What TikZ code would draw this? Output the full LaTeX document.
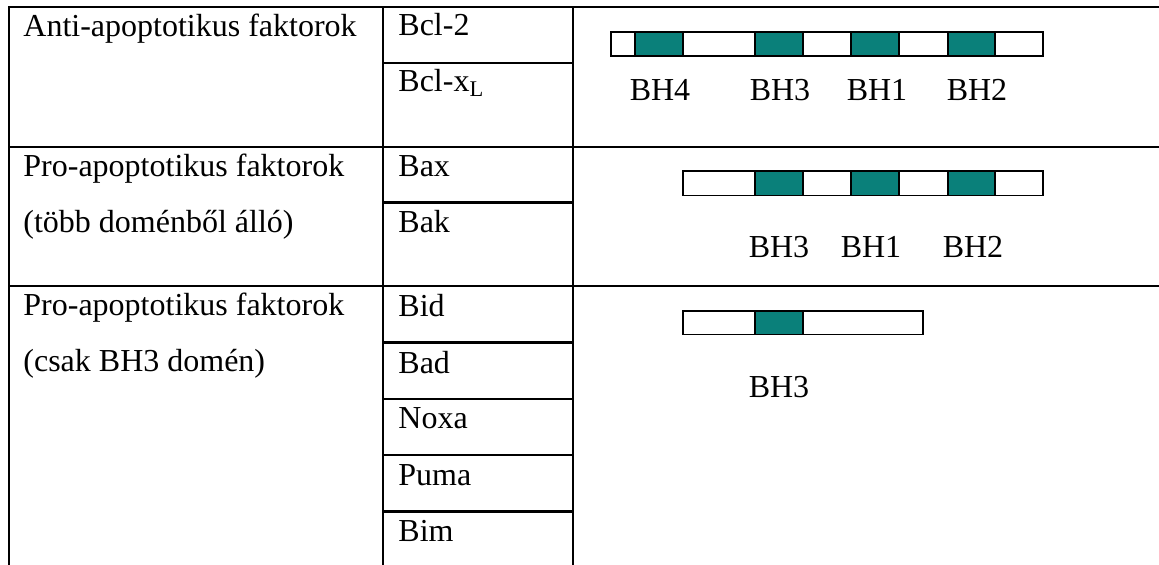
\documentclass[tikz,border=0pt]{standalone}
\usepackage{fontspec}
\setmainfont{Liberation Serif}
\definecolor{bhteal}{RGB}{10,128,122}
\begin{document}
\begin{tikzpicture}[x=0.5pt,y=-0.5pt,
  gridline/.style={line width=1.4pt, line cap=rect},
  txt/.style={anchor=base west, inner sep=0pt, font=\fontsize{16}{19}\selectfont},
  lab/.style={anchor=base, inner sep=0pt, font=\fontsize{16}{19}\selectfont},
  seg/.style={draw=black, line width=0.9pt, fill=white},
  dom/.style={draw=black, line width=0.9pt, fill=bhteal}]
\useasboundingbox (0,0) rectangle (1159,564);
% table grid
\draw[gridline] (9,7) -- (1159,7);
\draw[gridline] (9,147) -- (1159,147);
\draw[gridline] (9,286) -- (1159,286);
\foreach \yy in {63,202.7,342.7,399,455,511.7}
  \draw[gridline] (383,\yy) -- (573,\yy);
\draw[gridline] (9,7) -- (9,564);
\draw[gridline] (383,7) -- (383,564);
\draw[gridline] (573,7) -- (573,564);
% column 1
\node[txt] (c1a) at (23,36) {Anti-apoptotikus faktorok};
\node[txt] (c1b) at (23,176) {Pro-apoptotikus faktorok};
\node[txt] (c1c) at (23,232) {(több doménből álló)};
\node[txt] (c1d) at (23,315) {Pro-apoptotikus faktorok};
\node[txt] (c1e) at (23,371) {(csak BH3 domén)};
% column 2
\node[txt] (bcl2) at (398,35) {Bcl-2};
\node[txt] (bclxl) at (398,91) {Bcl-x\textsubscript{L}};
\node[txt] (bax) at (398,176) {Bax};
\node[txt] (bak) at (398,232) {Bak};
\node[txt] (bid) at (398,316) {Bid};
\node[txt] (bad) at (398,373) {Bad};
\node[txt] (noxa) at (398,428) {Noxa};
\node[txt] (puma) at (398,485) {Puma};
\node[txt] (bim) at (398,541) {Bim};
% bar 1
\draw[seg] (611,32) rectangle (1043,56);
\draw[dom] (635,32) rectangle (683,56);
\draw[dom] (755,32) rectangle (803,56);
\draw[dom] (851,32) rectangle (899,56);
\draw[dom] (948,32) rectangle (995,56);
\node[lab] (l1a) at (660,100) {BH4};
\node[lab] (l1b) at (780,100) {BH3};
\node[lab] (l1c) at (877,100) {BH1};
\node[lab] (l1d) at (977,100) {BH2};
% bar 2
\draw[seg] (683,171) rectangle (1043,195.5);
\draw[dom] (755,171) rectangle (803,195.5);
\draw[dom] (851,171) rectangle (899,195.5);
\draw[dom] (948,171) rectangle (995,195.5);
\node[lab] (l2a) at (779,257) {BH3};
\node[lab] (l2b) at (871,257) {BH1};
\node[lab] (l2c) at (973,257) {BH2};
% bar 3
\draw[seg] (683,311) rectangle (923,334.5);
\draw[dom] (755,311) rectangle (803,334.5);
\node[lab] (l3a) at (779,397) {BH3};
\end{tikzpicture}
\end{document}
